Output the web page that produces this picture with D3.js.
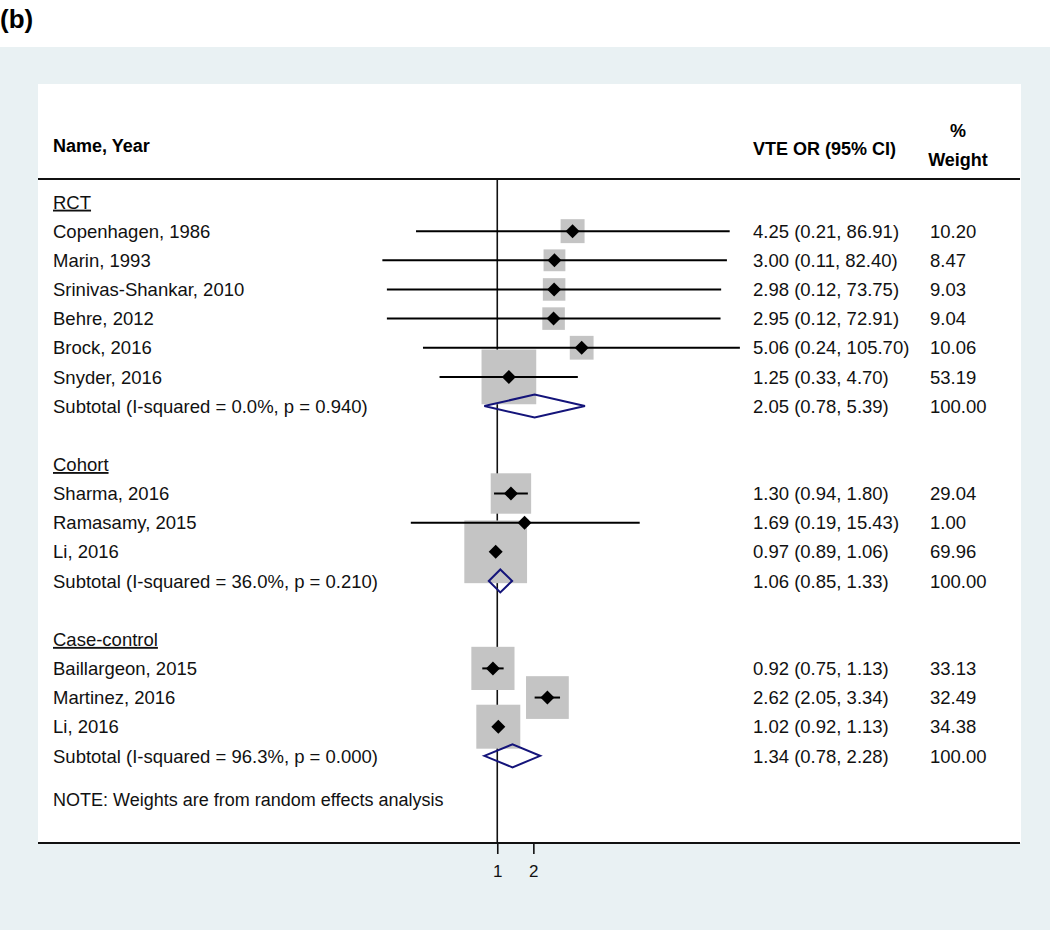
<!DOCTYPE html>
<html>
<head>
<meta charset="utf-8">
<script src="https://cdn.jsdelivr.net/npm/d3@7"></script>
<style>
  html, body { margin: 0; padding: 0; background: #ffffff; }
  svg text { font-family: "Liberation Sans", Arial, sans-serif; }
</style>
</head>
<body>
<svg id="chart" width="1050" height="930"></svg>
<script>
// ---------- DATA ----------
const groups = ["RCT", "Cohort", "Case-control"];

const studyNames = [
  "Copenhagen, 1986", "Marin, 1993", "Srinivas-Shankar, 2010", "Behre, 2012", "Brock, 2016", "Snyder, 2016",
  "Sharma, 2016", "Ramasamy, 2015", "Li, 2016",
  "Baillargeon, 2015", "Martinez, 2016", "Li, 2016"
];
const studyGroup = [0,0,0,0,0,0, 1,1,1, 2,2,2];
const studyOR    = [4.25, 3.00, 2.98, 2.95, 5.06, 1.25, 1.30, 1.69, 0.97, 0.92, 2.62, 1.02];
const studyLo    = [0.21, 0.11, 0.12, 0.12, 0.24, 0.33, 0.94, 0.19, 0.89, 0.75, 2.05, 0.92];
const studyHi    = [86.91, 82.40, 73.75, 72.91, 105.70, 4.70, 1.80, 15.43, 1.06, 1.13, 3.34, 1.13];
const studyWeight= [10.20, 8.47, 9.03, 9.04, 10.06, 53.19, 29.04, 1.00, 69.96, 33.13, 32.49, 34.38];

const subtotalLabels = [
  "Subtotal (I-squared = 0.0%, p = 0.940)",
  "Subtotal (I-squared = 36.0%, p = 0.210)",
  "Subtotal (I-squared = 96.3%, p = 0.000)"
];
const subtotalOR = [2.05, 1.06, 1.34];
const subtotalLo = [0.78, 0.85, 0.78];
const subtotalHi = [5.39, 1.33, 2.28];
const subtotalWeight = [100.00, 100.00, 100.00];

const xTicks = [1, 2];
const noteText = "NOTE: Weights are from random effects analysis";
const panelLabel = "(b)";

// ---------- LAYOUT ----------
const svg = d3.select("#chart");
const font = 18.5;
const headFont = 18;
const fmt = d3.format(".2f");

// build rows
const rows = [];
groups.forEach((g, gi) => {
  rows.push({type: "group", label: g});
  studyNames.forEach((n, i) => {
    if (studyGroup[i] === gi) rows.push({type: "study", label: n, or: studyOR[i], lo: studyLo[i], hi: studyHi[i], w: studyWeight[i]});
  });
  rows.push({type: "subtotal", label: subtotalLabels[gi], or: subtotalOR[gi], lo: subtotalLo[gi], hi: subtotalHi[gi], w: subtotalWeight[gi]});
  if (gi < groups.length - 1) rows.push({type: "blank"});
});

const y = d3.scaleLinear().domain([0, 1]).range([202, 231.15]);
const x = d3.scaleLog().domain([0.1, 100]).range([377.4, 737]);
const side = d3.scaleSqrt().domain([0, 100]).range([0, 75]);

// background
svg.append("rect").attr("x", 0).attr("y", 47).attr("width", 1050).attr("height", 883).attr("fill", "#e9f1f3");
svg.append("rect").attr("x", 38).attr("y", 84).attr("width", 983).attr("height", 759).attr("fill", "#ffffff");

svg.append("text").attr("x", 0).attr("y", 28).attr("font-size", 26).attr("font-weight", "bold").attr("fill", "#000").text(panelLabel);

// header
svg.append("text").attr("x", 53).attr("y", 152).attr("font-size", headFont).attr("font-weight", "bold").text("Name, Year");
svg.append("text").attr("x", 753).attr("y", 155).attr("font-size", headFont).attr("font-weight", "bold").text("VTE OR (95% CI)");
svg.append("text").attr("x", 958).attr("y", 137).attr("font-size", headFont).attr("font-weight", "bold").attr("text-anchor", "middle").text("%");
svg.append("text").attr("x", 958).attr("y", 166).attr("font-size", headFont).attr("font-weight", "bold").attr("text-anchor", "middle").text("Weight");

// horizontal rules
svg.append("line").attr("x1", 38).attr("x2", 1020).attr("y1", 179).attr("y2", 179).attr("stroke", "#111").attr("stroke-width", 2);

// null line at 1
svg.append("line").attr("x1", x(1)).attr("x2", x(1)).attr("y1", 179).attr("y2", 843).attr("stroke", "#111").attr("stroke-width", 1.6);

const g = svg.append("g");

// boxes
rows.forEach((r, i) => {
  if (r.type !== "study") return;
  const s = side(r.w);
  g.append("rect").attr("x", x(r.or) - s/2).attr("y", y(i) - s/2).attr("width", s).attr("height", s).attr("fill", "#c4c4c4");
});
// CI lines and point markers
rows.forEach((r, i) => {
  if (r.type !== "study") return;
  g.append("line").attr("x1", x(r.lo)).attr("x2", x(r.hi)).attr("y1", y(i)).attr("y2", y(i)).attr("stroke", "#000").attr("stroke-width", 2);
  const cx = x(r.or), cy = y(i), d = 7;
  g.append("path").attr("d", `M${cx-d},${cy}L${cx},${cy-d}L${cx+d},${cy}L${cx},${cy+d}Z`).attr("fill", "#000");
});
// subtotal diamonds
rows.forEach((r, i) => {
  if (r.type !== "subtotal") return;
  const cy = y(i), h = 11.5;
  g.append("path").attr("d", `M${x(r.lo)},${cy}L${x(r.or)},${cy-h}L${x(r.hi)},${cy}L${x(r.or)},${cy+h}Z`)
    .attr("fill", "none").attr("stroke", "#14147a").attr("stroke-width", 2);
});

// text columns
rows.forEach((r, i) => {
  if (r.type === "blank") return;
  const t = svg.append("text").attr("x", 53).attr("y", y(i)).attr("dy", "0.36em").attr("font-size", font).attr("fill", "#111").text(r.label);
  if (r.type === "group") t.attr("text-decoration", "underline");
  if (r.type === "study" || r.type === "subtotal") {
    svg.append("text").attr("x", 753).attr("y", y(i)).attr("dy", "0.36em").attr("font-size", font).attr("fill", "#111")
      .text(`${fmt(r.or)} (${fmt(r.lo)}, ${fmt(r.hi)})`);
    svg.append("text").attr("x", 930).attr("y", y(i)).attr("dy", "0.36em").attr("font-size", font).attr("fill", "#111")
      .text(fmt(r.w));
  }
});

// note
svg.append("text").attr("x", 53).attr("y", y(20.5)).attr("dy", "0.36em").attr("font-size", 18).attr("fill", "#111").text(noteText);

// bottom axis
svg.append("line").attr("x1", 38).attr("x2", 1020).attr("y1", 843).attr("y2", 843).attr("stroke", "#111").attr("stroke-width", 2);
const axis = d3.axisBottom(x).tickValues(xTicks).tickFormat(d3.format("d")).tickSize(10).tickPadding(11);
const ax = svg.append("g").attr("transform", "translate(0,844)").call(axis);
ax.select(".domain").remove();
ax.selectAll(".tick line").attr("stroke", "#111").attr("stroke-width", 1.6);
ax.selectAll(".tick text").attr("font-size", 17).attr("fill", "#111").attr("font-family", "Liberation Sans, Arial, sans-serif");
</script>
</body>
</html>
